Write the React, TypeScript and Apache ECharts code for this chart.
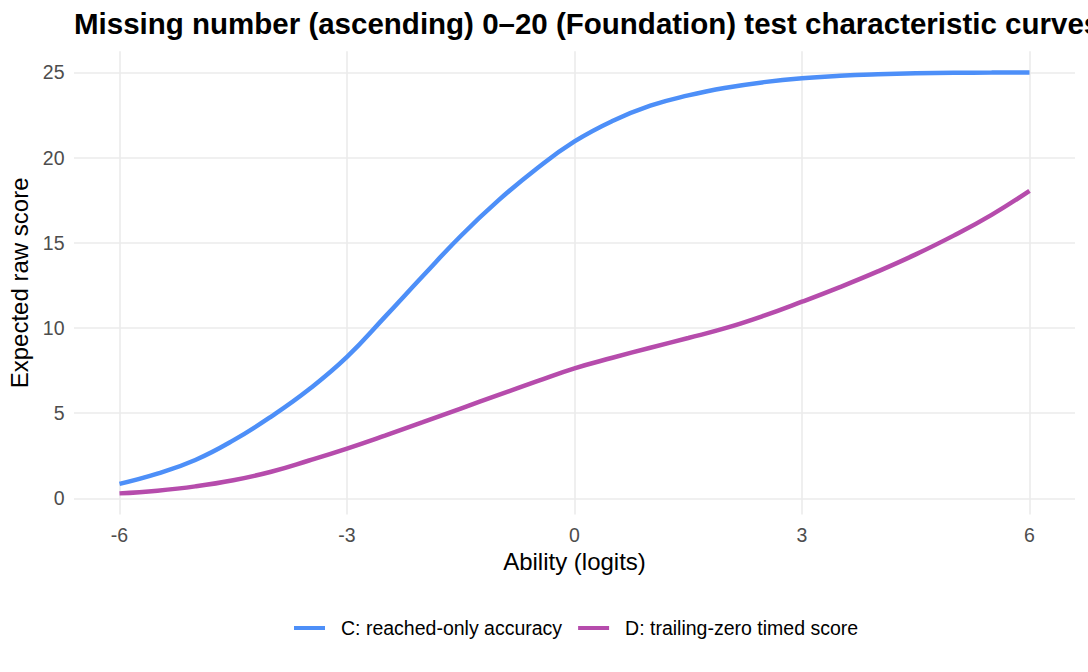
import { useEffect, useRef } from "react";
import * as echarts from "echarts";

// Ability grid (logits) at which the expected raw scores are listed
const ability = [
  -6, -5.5, -5, -4.5, -4, -3.5, -3, -2.5, -2, -1.5, -1, -0.5, 0, 0.5, 1, 1.5, 2,
  2.5, 3, 3.5, 4, 4.5, 5, 5.5, 6,
];

// C: reached-only accuracy
const reachedOnly = [
  0.85, 1.45, 2.25, 3.4, 4.8, 6.4, 8.3, 10.65, 13.05, 15.4, 17.5, 19.35, 20.95,
  22.15, 23.05, 23.65, 24.1, 24.43, 24.66, 24.8, 24.89, 24.95, 24.98, 24.99,
  25.0,
];

// D: trailing-zero timed score
const trailingZero = [
  0.29, 0.45, 0.7, 1.06, 1.56, 2.22, 2.92, 3.68, 4.47, 5.27, 6.07, 6.86, 7.63,
  8.25, 8.84, 9.41, 10.0, 10.72, 11.54, 12.4, 13.32, 14.32, 15.42, 16.64, 18.05,
];

const xTicks = [-6, -3, 0, 3, 6];
const yTicks = [0, 5, 10, 15, 20, 25];

const seriesNames = ["C: reached-only accuracy", "D: trailing-zero timed score"];
const seriesColors = ["#4D8FF8", "#B64CAC"];

const titleText =
  "Missing number (ascending) 0–20 (Foundation) test characteristic curves";
const xTitle = "Ability (logits)";
const yTitle = "Expected raw score";

const FONT = "'Liberation Sans', Arial, Helvetica, sans-serif";

export default function App() {
  const ref = useRef<HTMLDivElement>(null);

  useEffect(() => {
    const chart = echarts.init(ref.current!, null, { renderer: "svg" });

    // Panel grid lines at the labelled ticks only
    const gridLines = [
      ...yTicks.map((v) => ({ yAxis: v })),
      ...xTicks.map((v) => ({ xAxis: v })),
    ];

    chart.setOption({
      animation: false,
      backgroundColor: "#ffffff",
      textStyle: { fontFamily: FONT },
      title: {
        text: titleText,
        left: 74,
        top: 8,
        padding: 0,
        textStyle: {
          fontFamily: FONT,
          fontSize: 29.5,
          fontWeight: "bold",
          color: "#000000",
        },
      },
      legend: {
        data: seriesNames,
        left: 294,
        top: 618,
        padding: 0,
        icon: "rect",
        itemWidth: 31,
        itemHeight: 4,
        itemGap: 16,
        textStyle: {
          fontFamily: FONT,
          fontSize: 19.5,
          color: "#000000",
          padding: [0, 0, 0, 11],
        },
      },
      grid: {
        left: 74,
        right: 13,
        top: 51.3,
        bottom: 157.5,
        containLabel: false,
        outerBoundsMode: "none",
      },
      xAxis: {
        type: "value",
        min: -6.6,
        max: 6.6,
        axisLine: { show: false },
        axisTick: { show: false },
        splitLine: { show: false },
        axisLabel: {
          customValues: xTicks,
          fontFamily: FONT,
          fontSize: 19.5,
          color: "#4D4D4D",
          margin: 10,
        },
        name: xTitle,
        nameLocation: "middle",
        nameGap: 32,
        nameTextStyle: { fontFamily: FONT, fontSize: 24, color: "#000000" },
      },
      yAxis: {
        type: "value",
        min: -0.95,
        max: 26.24,
        axisLine: { show: false },
        axisTick: { show: false },
        splitLine: { show: false },
        axisLabel: {
          customValues: yTicks,
          fontFamily: FONT,
          fontSize: 19.5,
          color: "#4D4D4D",
          margin: 9.5,
        },
        name: yTitle,
        nameLocation: "middle",
        nameGap: 39,
        nameRotate: 90,
        nameTextStyle: { fontFamily: FONT, fontSize: 24, color: "#000000" },
      },
      series: [
        {
          type: "line",
          name: "panel-grid",
          data: [],
          silent: true,
          z: 0,
          markLine: {
            z: 0,
            silent: true,
            symbol: ["none", "none"],
            label: { show: false },
            emphasis: { disabled: true },
            lineStyle: { color: "#EBEBEB", width: 1.6, type: "solid" },
            data: gridLines,
          },
        },
        {
          type: "line",
          name: seriesNames[0],
          data: ability.map((x, i) => [x, reachedOnly[i]]),
          smooth: 0.45,
          showSymbol: false,
          symbol: "none",
          z: 3,
          lineStyle: { width: 4.5, color: seriesColors[0] },
          itemStyle: { color: seriesColors[0] },
        },
        {
          type: "line",
          name: seriesNames[1],
          data: ability.map((x, i) => [x, trailingZero[i]]),
          smooth: 0.45,
          showSymbol: false,
          symbol: "none",
          z: 3,
          lineStyle: { width: 4.5, color: seriesColors[1] },
          itemStyle: { color: seriesColors[1] },
        },
      ],
    });

    return () => chart.dispose();
  }, []);

  return (
    <div
      ref={ref}
      style={{ position: "fixed", left: 0, top: 0, width: 1088, height: 672 }}
    />
  );
}
